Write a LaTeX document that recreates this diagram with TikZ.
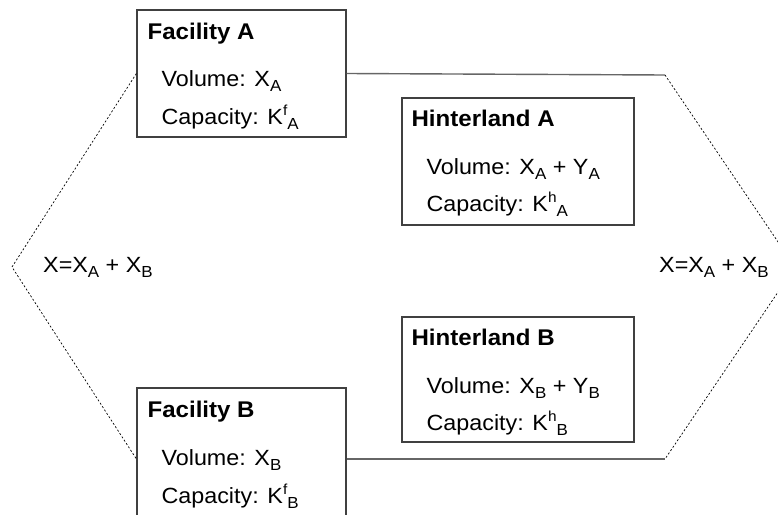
\documentclass[tikz,border=0pt]{standalone}
\usepackage{fontspec}
\setmainfont{Liberation Sans}[FakeStretch=1.06]
\newcommand{\lsub}[1]{\raisebox{-0.45ex}{\fontsize{16}{17}\selectfont #1}}
\newcommand{\lsup}[1]{\raisebox{0.75ex}{\fontsize{14.5}{15}\selectfont #1}}
\tikzset{
  box/.style={draw=black!75,line width=1.2pt,rectangle,inner sep=0pt},
  title/.style={anchor=base west,inner sep=0pt,font=\fontsize{22.7}{24}\selectfont\bfseries},
  entry/.style={anchor=base west,inner sep=0pt,font=\fontsize{22}{24}\selectfont},
  link/.style={draw=black!60,line width=1.4pt},
  bound/.style={draw=black,line width=0.7pt,dash pattern=on 2pt off 2pt}
}
\begin{document}
\begin{tikzpicture}[x=1pt,y=-1pt]
\useasboundingbox (0,0) rectangle (778,514);
\clip (0,0) rectangle (778,514);
% facilities
\node[box,minimum width=209pt,minimum height=127pt] (facA) at (241.5,73.5) {};
\node[box,minimum width=209pt,minimum height=142pt] (facB) at (241.5,459) {};
\node[title] (facAt) at ([shift={(11,30)}]facA.north west) {Facility A};
\node[entry] (facAv) at ([shift={(25,77)}]facA.north west) {Volume: X\lsub{A}};
\node[entry] (facAc) at ([shift={(25,115)}]facA.north west) {Capacity: K\lsup{f}\lsub{A}};
\node[title] (facBt) at ([shift={(11,30)}]facB.north west) {Facility B};
\node[entry] (facBv) at ([shift={(25,78)}]facB.north west) {Volume: X\lsub{B}};
\node[entry] (facBc) at ([shift={(25,116)}]facB.north west) {Capacity: K\lsup{f}\lsub{B}};
% hinterlands
\node[box,minimum width=232pt,minimum height=127pt] (hinA) at (518,161.5) {};
\node[box,minimum width=232pt,minimum height=125pt] (hinB) at (518,379.5) {};
\node[title] (hinAt) at ([shift={(10,29)}]hinA.north west) {Hinterland A};
\node[entry] (hinAv) at ([shift={(25,77)}]hinA.north west) {Volume: X\lsub{A} + Y\lsub{A}};
\node[entry] (hinAc) at ([shift={(25,114)}]hinA.north west) {Capacity: K\lsup{h}\lsub{A}};
\node[title] (hinBt) at ([shift={(10,29)}]hinB.north west) {Hinterland B};
\node[entry] (hinBv) at ([shift={(25,77)}]hinB.north west) {Volume: X\lsub{B} + Y\lsub{B}};
\node[entry] (hinBc) at ([shift={(25,114)}]hinB.north west) {Capacity: K\lsup{h}\lsub{B}};
% totals
\node[entry] (totL) at (43,272) {X=X\lsub{A} + X\lsub{B}};
\node[entry] (totR) at (659,272) {X=X\lsub{A} + X\lsub{B}};
% corners of the boundary
\coordinate (ltip) at (12,267);
\coordinate (rtip) at (795,267);
\coordinate (rtop) at (665,75);
\coordinate (rbot) at (665,459);
% links
\draw[link] (facA.east) -- (rtop);
\draw[link] (facB.east) -- (rbot);
\draw[bound] (facA.west) -- (ltip) -- (facB.west);
\draw[bound] (rtop) -- (rtip) -- (rbot);
\end{tikzpicture}
\end{document}
